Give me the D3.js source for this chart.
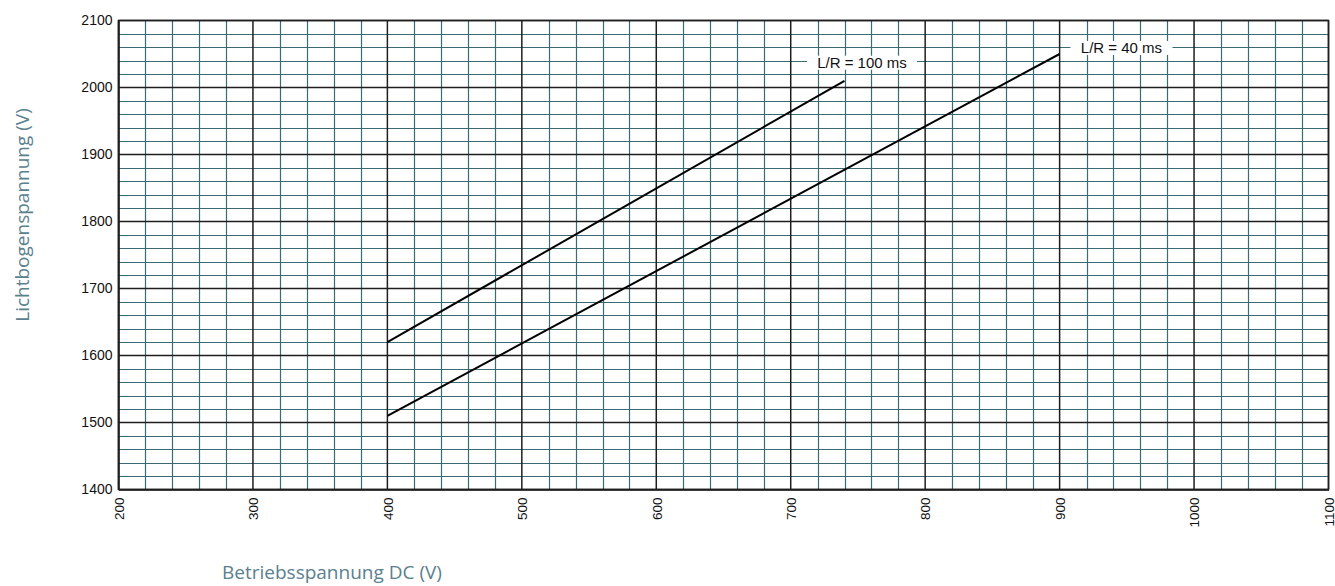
<!DOCTYPE html>
<html>
<head>
<meta charset="utf-8">
<script src="https://cdn.jsdelivr.net/npm/d3@7"></script>
<style>
  body { margin: 0; background: #fff; }
  svg { display: block; }
</style>
</head>
<body>
<svg></svg>
<script>
// Kennlinien: Betriebsspannung DC (V) -> Lichtbogenspannung (V)
let seriesNames = ['L/R = 100 ms', 'L/R = 40 ms']
let lr100 = [[400, 1620], [740, 2010]]
let lr40 = [[400, 1510], [900, 2050]]
let labelPos = [[753, 2037], [946, 2059]]

let xTicks = [200, 300, 400, 500, 600, 700, 800, 900, 1000, 1100]
let yTicks = [1400, 1500, 1600, 1700, 1800, 1900, 2000, 2100]

let width = 1335
let height = 586
let plotLeft = 118.5
let plotRight = 1328.5
let plotTop = 20.5
let plotBottom = 489.5

let svg = d3.select('svg')
    .attr('width', width)
    .attr('height', height)

let xScale = d3.scaleLinear().domain([200, 1100]).range([plotLeft, plotRight])
let yScale = d3.scaleLinear().domain([1400, 2100]).range([plotBottom, plotTop])

// feines Raster alle 20 V
let xMinor = d3.range(200, 1101, 20).filter(v => v % 100 !== 0)
let yMinor = d3.range(1400, 2101, 20).filter(v => v % 100 !== 0)

let grid = svg.append('g')

grid.selectAll('.vminor')
    .data(xMinor)
    .enter()
    .append('line')
    .attr('x1', d => Math.round(xScale(d)) + 0.5)
    .attr('x2', d => Math.round(xScale(d)) + 0.5)
    .attr('y1', plotTop)
    .attr('y2', plotBottom)
    .attr('stroke', '#3a6b74')
    .attr('stroke-width', 1.2)

grid.selectAll('.hminor')
    .data(yMinor)
    .enter()
    .append('line')
    .attr('y1', d => Math.round(yScale(d)) + 0.5)
    .attr('y2', d => Math.round(yScale(d)) + 0.5)
    .attr('x1', plotLeft)
    .attr('x2', plotRight)
    .attr('stroke', '#3a6b74')
    .attr('stroke-width', 1.2)

// grobes Raster alle 100 V
grid.selectAll('.vmajor')
    .data(xTicks)
    .enter()
    .append('line')
    .attr('x1', d => xScale(d))
    .attr('x2', d => xScale(d))
    .attr('y1', plotTop)
    .attr('y2', plotBottom)
    .attr('stroke', '#1e1e1e')
    .attr('stroke-width', 1.5)

grid.selectAll('.hmajor')
    .data(yTicks)
    .enter()
    .append('line')
    .attr('y1', d => yScale(d))
    .attr('y2', d => yScale(d))
    .attr('x1', plotLeft)
    .attr('x2', plotRight)
    .attr('stroke', '#1e1e1e')
    .attr('stroke-width', 1.5)

// Achsen
let xAxis = d3.axisBottom(xScale).tickValues(xTicks).tickFormat(d3.format('d')).tickSize(0).tickPadding(7)
let yAxis = d3.axisLeft(yScale).tickValues(yTicks).tickFormat(d3.format('d')).tickSize(0).tickPadding(6)

let gx = svg.append('g')
    .attr('transform', 'translate(0,' + plotBottom + ')')
    .call(xAxis)
gx.select('.domain').attr('stroke', '#1e1e1e').attr('stroke-width', 1.5)
gx.selectAll('text')
    .attr('font-family', 'Liberation Sans, Arial, sans-serif')
    .attr('font-size', 13.5)
    .attr('fill', '#111')
    .attr('transform', 'rotate(-90)')
    .attr('text-anchor', 'end')
    .attr('dy', '0.35em')
    .attr('x', -8)
    .attr('y', 0)

let gy = svg.append('g')
    .attr('transform', 'translate(' + plotLeft + ',0)')
    .call(yAxis)
gy.select('.domain').attr('stroke', '#1e1e1e').attr('stroke-width', 1.5)
gy.selectAll('text')
    .attr('font-family', 'Liberation Sans, Arial, sans-serif')
    .attr('font-size', 14)
    .attr('fill', '#111')

// Rahmen oben/rechts
svg.append('rect')
    .attr('x', plotLeft)
    .attr('y', plotTop)
    .attr('width', plotRight - plotLeft)
    .attr('height', plotBottom - plotTop)
    .attr('fill', 'none')
    .attr('stroke', '#1e1e1e')
    .attr('stroke-width', 1.5)

// Kennlinien
let line = d3.line().x(d => xScale(d[0])).y(d => yScale(d[1]))

svg.selectAll('.curve')
    .data([lr100, lr40])
    .enter()
    .append('path')
    .attr('d', line)
    .attr('fill', 'none')
    .attr('stroke', '#000')
    .attr('stroke-width', 2)

// Beschriftungen mit weissem Hintergrund
let labels = svg.selectAll('.lbl')
    .data(seriesNames)
    .enter()
    .append('g')
    .attr('transform', (d, i) => 'translate(' + xScale(labelPos[i][0]) + ',' + yScale(labelPos[i][1]) + ')')

labels.append('rect')
    .attr('x', (d, i) => i === 0 ? -55 : -51)
    .attr('width', (d, i) => i === 0 ? 110 : 102)
    .attr('y', -7)
    .attr('height', 14)
    .attr('fill', '#fff')

labels.append('text')
    .text(d => d)
    .attr('text-anchor', 'middle')
    .attr('dy', '0.35em')
    .attr('font-family', 'Liberation Sans, Arial, sans-serif')
    .attr('font-size', 15)
    .attr('fill', '#111')

// Achsentitel
svg.append('text')
    .text('Betriebsspannung DC (V)')
    .attr('x', 222)
    .attr('y', 579)
    .attr('font-family', 'Open Sans, sans-serif')
    .attr('font-size', 19)
    .attr('fill', '#5b808e')

svg.append('text')
    .text('Lichtbogenspannung (V)')
    .attr('transform', 'translate(29,215) rotate(-90)')
    .attr('text-anchor', 'middle')
    .attr('font-family', 'Open Sans, sans-serif')
    .attr('font-size', 19)
    .attr('fill', '#5b808e')
</script>
</body>
</html>
